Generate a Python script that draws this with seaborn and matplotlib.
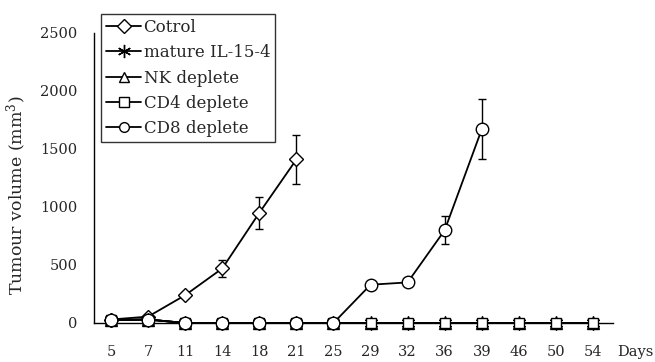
import numpy as np
import pandas as pd
import matplotlib
matplotlib.use("Agg")
import matplotlib.pyplot as plt
from matplotlib.ticker import FixedLocator
import seaborn as sns

days = ["5", "7", "11", "14", "18", "21", "25", "29", "32", "36", "39", "46", "50", "54"]

control = [30, 55, 240, 470, 950, 1410]
control_err = [0, 0, 25, 70, 140, 210]
il15 = [25, 30, 0, 0, 0, 0, 0, 0, 0, 0, 0, 0, 0, 0]
nk = [25, 30, 0, 0, 0, 0, 0, 0, 0, 0, 0, 0, 0, 0]
cd4 = [25, 30, 0, 0, 0, 0, 0, 0, 0, 0, 0, 0, 0, 0]
cd8 = [25, 30, 0, 0, 0, 0, 0, 330, 350, 800, 1670]
cd8_err = [0, 0, 0, 0, 0, 0, 0, 20, 20, 120, 260]

series = [
    ("Cotrol", control, control_err, "D", 7),
    ("mature IL-15-4", il15, None, (6, 2, 0), 10),
    ("NK deplete", nk, None, "^", 8),
    ("CD4 deplete", cd4, None, "s", 7.5),
    ("CD8 deplete", cd8, cd8_err, "o", 9),
]

rows = []
for name, vals, err, m, ms in series:
    for i, v in enumerate(vals):
        rows.append({"series": name, "pos": i, "day": days[i], "volume": v})
df = pd.DataFrame(rows)

sns.set_style("white")
plt.rcParams["font.family"] = ["DejaVu Serif"]
plt.rcParams["mathtext.fontset"] = "dejavuserif"

fig = plt.figure(figsize=(6.55, 3.62), dpi=100)
ax = fig.add_axes([94 / 655, 1 - 323 / 362, (613 - 94) / 655, (323 - 33) / 362])

for name, vals, err, m, ms in series:
    sub = df[df["series"] == name]
    sns.lineplot(data=sub, x="pos", y="volume", ax=ax, color="black", lw=1.3,
                 marker=m, markersize=ms, markerfacecolor="white",
                 markeredgecolor="black", markeredgewidth=1.0,
                 clip_on=False, label=name, zorder=3)
    if err is not None:
        pos = np.arange(len(vals))
        e = np.array(err)
        mask = e > 0
        ax.errorbar(pos[mask], np.array(vals)[mask], yerr=e[mask], fmt="none",
                    ecolor="black", elinewidth=1.0, capsize=3, capthick=1.0,
                    zorder=2)

ax.set_xlim(-0.46, 13.54)
ax.set_ylim(0, 2500)
ax.set_xticks(range(len(days)))
ax.set_xticklabels(days)
ax.xaxis.set_minor_locator(FixedLocator(np.arange(-0.5, 13.6, 0.5)))
ax.set_yticks([0, 500, 1000, 1500, 2000, 2500])
ax.set_xlabel("")
ax.set_ylabel("Tumour volume (mm$^3$)", fontsize=12.5)
ax.yaxis.set_label_coords(-0.125, 0.44)
ax.tick_params(axis="x", which="major", labelsize=10.5, length=0, pad=16)
ax.tick_params(axis="x", which="minor", length=3, direction="in", width=0.8)
ax.tick_params(axis="y", labelsize=10.5, length=3, direction="in", width=0.8, pad=12)
for s in ["top", "right"]:
    ax.spines[s].set_visible(False)
for s in ["left", "bottom"]:
    ax.spines[s].set_color("black")
    ax.spines[s].set_linewidth(1.0)

fig.text(617 / 655, 1 - 352 / 362, "Days", ha="left", va="center", fontsize=10.5)

leg = ax.legend(loc="upper left", bbox_to_anchor=(101 / 655, 1 - 14 / 362),
                bbox_transform=fig.transFigure, frameon=True, fancybox=False,
                fontsize=12, handlelength=2.1, handletextpad=0.15,
                borderpad=0.3, labelspacing=0.5, borderaxespad=0)
leg.get_frame().set_edgecolor("black")
leg.get_frame().set_linewidth(1.0)
for h, (name, vals, err, m, ms) in zip(leg.legend_handles, series):
    h.set_markersize(9.5 if name == "mature IL-15-4" else 7)

fig.savefig("out.png", dpi=100)
